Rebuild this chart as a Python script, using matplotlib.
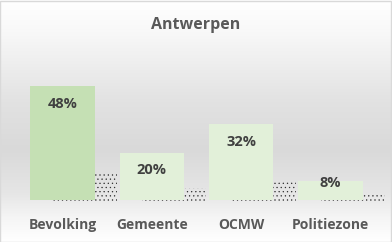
#!/usr/bin/env python3
"""Staafdiagram Antwerpen"""
import numpy as np
import matplotlib.pyplot as plt
from matplotlib.colors import LinearSegmentedColormap

categories = ['Bevolking', 'Gemeente', 'OCMW', 'Politiezone']
values = [48, 20, 32, 8]
labels = ['48%', '20%', '32%', '8%']
colors = ['#c5e0b4', '#e2f0d9', '#e2f0d9', '#e2f0d9']

plt.rcParams['font.family'] = ['Open Sans', 'DejaVu Sans']
plt.rcParams['hatch.linewidth'] = 0.4

W, H = 392, 242
fig = plt.figure(figsize=(W / 100, H / 100), dpi=100)

# achtergrond met verticale gradient
bg = fig.add_axes([0, 0, 1, 1])
bg.set_axis_off()
stops = [(0.0, '#ffffff'), (0.12, '#f9f9f9'), (0.42, '#e2e2e2'),
         (0.62, '#d9d9d9'), (0.80, '#e6e6e6'), (0.90, '#f5f5f5'), (1.0, '#ffffff')]
cmap = LinearSegmentedColormap.from_list('bg', stops)
grad = np.linspace(0, 1, 256).reshape(-1, 1)
bg.imshow(grad, aspect='auto', cmap=cmap, extent=[0, 1, 0, 1], origin='upper')
bg.set_xlim(0, 1)
bg.set_ylim(0, 1)
bg.add_patch(plt.Rectangle((0.001, 0.002), 0.997, 0.995, fill=False,
                           edgecolor='#d9d9d9', linewidth=1))

ax = fig.add_axes([18 / W, 42 / H, 357 / W, 118.75 / H])
ax.patch.set_alpha(0)
x = np.arange(len(categories))
width = 0.72

# schaduw (gestippeld)
for xi, v in zip(x, values):
    ax.bar(xi + 0.25, v * 0.25 + 0.8, width=width, bottom=-0.8,
           color='none', edgecolor='#303030', linewidth=0,
           hatch='....', zorder=1, clip_on=False)

ax.bar(x, values, width=width, color=colors, zorder=2)

for xi, v, lab in zip(x, values, labels):
    off = -18 if v > 15 else -2
    ax.annotate(lab, (xi, v), xytext=(0, off), textcoords='offset pixels',
                ha='center', va='center', fontsize=10.5, fontweight='bold',
                color='#404040', zorder=3)

ax.set_xlim(-0.5, 3.5)
ax.set_ylim(0, 50)
ax.set_xticks(x)
ax.set_xticklabels(categories, fontsize=10, fontweight='bold', color='#595959')
ax.tick_params(length=0, pad=13)
ax.set_yticks([])
for s in ax.spines.values():
    s.set_visible(False)

fig.text(0.5, 1 - 25 / H, 'Antwerpen', ha='center', va='center',
         fontsize=11.5, fontweight='bold', color='#595959')

fig.savefig('out.png', dpi=100)
